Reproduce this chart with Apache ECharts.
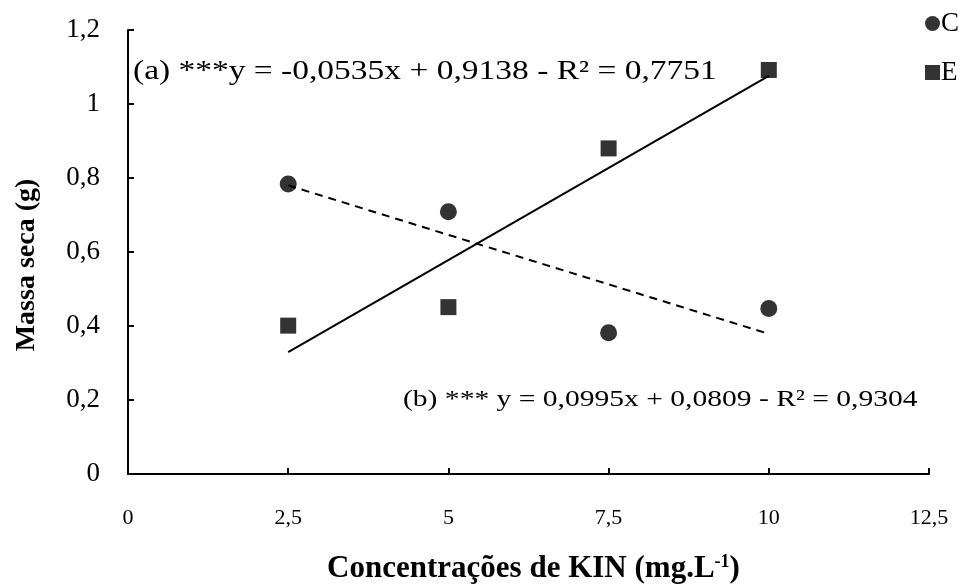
<!DOCTYPE html>
<html>
<head>
<meta charset="utf-8">
<script src="https://cdn.jsdelivr.net/npm/echarts@6/dist/echarts.min.js"></script>
<style>
html,body{margin:0;padding:0;background:#fff;}
#chart{width:970px;height:585px;}
</style>
</head>
<body>
<div id="chart"></div>
<script>
// Data
var concentrations = [2.5, 5, 7.5, 10];
var seriesC = [0.784, 0.709, 0.382, 0.447];
var seriesE = [0.401, 0.451, 0.880, 1.092];
// Regression coefficients printed on the chart [slope, intercept]
var fitA = [-0.0535, 0.9138]; // (a) for C
var fitB = [0.0995, 0.0809];  // (b) for E
var fitRange = [2.5, 10];
var xTicks = [0, 2.5, 5, 7.5, 10, 12.5];
var yTicks = [0, 0.2, 0.4, 0.6, 0.8, 1, 1.2];
var eqA = '(a) ***y = -0,0535x + 0,9138 - R² = 0,7751';
var eqB = '(b) *** y = 0,0995x + 0,0809 - R² = 0,9304';

var FONT = '"Liberation Serif", "Times New Roman", serif';
function pairs(xs, ys){ return xs.map(function(x,i){ return [x, ys[i]]; }); }
function fitLine(c){ return fitRange.map(function(x){ return [x, c[0]*x + c[1]]; }); }
function comma(v){ return String(parseFloat(Number(v).toFixed(2))).replace('.', ','); }

var chart = echarts.init(document.getElementById('chart'), null, {renderer:'canvas'});
chart.setOption({
  animation: false,
  backgroundColor: '#fff',
  textStyle: {fontFamily: FONT, color: '#000'},
  grid: {left: 128, right: 41, top: 30, bottom: 111, outerBoundsMode: 'none', containLabel: false},
  legend: {
    orient: 'vertical', left: 920, top: 5, itemGap: 22,
    itemWidth: 15, itemHeight: 15,
    textStyle: {fontFamily: FONT, fontSize: 27, color: '#000', padding: [0,0,0,-4]},
    data: [{name: 'C', icon: 'circle'}, {name: 'E', icon: 'rect'}]
  },
  xAxis: {
    type: 'value', min: xTicks[0], max: xTicks[xTicks.length-1], interval: 2.5,
    axisLine: {show: true, lineStyle: {color: '#000', width: 2}},
    axisTick: {show: true, inside: true, length: 6, lineStyle: {color: '#000', width: 2}},
    splitLine: {show: false},
    axisLabel: {fontFamily: FONT, fontSize: 22, color: '#000', margin: 33, formatter: comma},
    name: '{b|Concentrações de KIN (mg.L}{s|-1}{b|)}',
    nameLocation: 'middle', nameGap: 79,
    nameTextStyle: {
      padding: [0, 0, 0, 10],
      rich: {
        b: {fontFamily: FONT, fontSize: 31, fontWeight: 'bold', color: '#000', lineHeight: 31},
        s: {fontFamily: FONT, fontSize: 18, fontWeight: 'bold', color: '#000', lineHeight: 16, verticalAlign: 'top'}
      }
    }
  },
  yAxis: {
    type: 'value', min: yTicks[0], max: yTicks[yTicks.length-1], interval: 0.2,
    axisLine: {show: true, lineStyle: {color: '#000', width: 2}},
    axisTick: {show: true, inside: true, length: 6, lineStyle: {color: '#000', width: 2}},
    splitLine: {show: false},
    axisLabel: {fontFamily: FONT, fontSize: 27, color: '#000', margin: 28, formatter: comma},
    name: 'Massa seca (g)', nameLocation: 'middle', nameGap: 87,
    nameTextStyle: {fontFamily: FONT, fontSize: 28, fontWeight: 'bold', color: '#000', padding: [0, 26, 0, 0]}
  },
  series: [
    {name: 'C', type: 'scatter', symbol: 'circle', symbolSize: 17,
     itemStyle: {color: '#000'}, data: pairs(concentrations, seriesC), z: 5},
    {name: 'E', type: 'scatter', symbol: 'rect', symbolSize: 16,
     itemStyle: {color: '#000'}, data: pairs(concentrations, seriesE), z: 5},
    {name: 'fitA', type: 'line', showSymbol: false, symbol: 'none',
     lineStyle: {color: '#000', width: 2, type: [8, 6]}, data: fitLine(fitA), z: 3},
    {name: 'fitB', type: 'line', showSymbol: false, symbol: 'none',
     lineStyle: {color: '#000', width: 2}, data: fitLine(fitB), z: 3}
  ],
  graphic: [
    {type: 'text', x: 133, y: 72, scaleX: 1.24,
     style: {text: eqA, font: '27px ' + FONT, fill: '#000', verticalAlign: 'middle', align: 'left'}},
    {type: 'text', x: 403, y: 400, scaleX: 1.285,
     style: {text: eqB, font: '23px ' + FONT, fill: '#000', verticalAlign: 'middle', align: 'left'}}
  ]
});
</script>
</body>
</html>
